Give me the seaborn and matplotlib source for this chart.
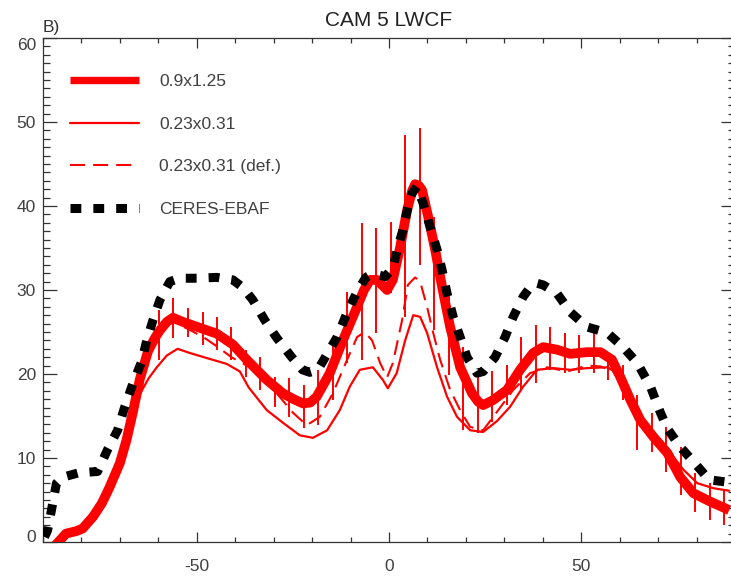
import matplotlib
matplotlib.use("Agg")
import matplotlib.pyplot as plt
import seaborn as sns
from matplotlib.lines import Line2D
from matplotlib.ticker import MultipleLocator

# CERES-EBAF observations
ceres_lat = [-89.6, -88.8, -87.8, -86.5, -85.0, -81.0, -78.5, -75.8, -73.2, -70.6, -68.8,
             -66.6, -64.4, -63.0, -61.4, -59.6, -57.0, -54.4, -50.0, -44.8, -40.6, -38.0,
             -35.4, -32.3, -29.2, -25.3, -22.5, -20.6, -18.5, -16.7, -13.5, -10.9, -8.3,
             -6.0, -4.9, -3.0, -1.0, 1.0, 2.3, 3.6, 5.0, 6.0, 7.2, 8.9, 10.7, 12.5, 13.8,
             15.1, 16.7, 18.5, 20.3, 22.9, 24.5, 26.3, 27.6, 30.2, 32.3, 34.9, 37.0, 38.5,
             40.1, 43.7, 47.1, 51.5, 56.8, 60.9, 64.6, 68.0, 70.6, 72.4, 75.8, 79.5, 83.3, 88.5]
ceres_val = [0.6, 1.4, 3.8, 7.0, 7.7, 8.2, 8.3, 8.4, 11.0, 13.3, 16.0,
             18.9, 21.4, 24.0, 26.4, 28.8, 31.0, 31.4, 31.4, 31.5, 31.2, 30.3,
             28.8, 26.4, 24.3, 22.0, 20.5, 20.2, 20.5, 21.9, 24.4, 27.3, 29.8,
             31.5, 31.8, 31.8, 31.6, 32.6, 35.1, 37.1, 40.0, 41.5, 42.3, 40.3, 37.5, 34.8, 32.4,
             29.6, 26.8, 24.4, 22.0, 20.1, 20.3, 21.3, 22.0, 24.4, 26.8, 29.2, 30.5, 30.8,
             30.6, 29.6, 27.4, 25.6, 24.9, 23.2, 21.3, 18.5, 15.4, 13.5, 11.3, 9.4, 7.4, 7.1]

# CAM5 0.9x1.25
lr_lat = [-87.0, -84.0, -81.3, -79.7, -77.0, -74.7, -72.7, -70.0, -68.3, -66.6, -64.8,
          -62.7, -61.0, -59.6, -57.8, -56.2, -53.6, -49.2, -44.8, -40.6, -37.0, -31.8, -27.6,
          -24.8, -22.4, -20.5, -18.8, -15.4, -12.0, -8.3, -6.5, -4.9, -3.1, -0.5, 1.0, 2.9,
          4.7, 6.0, 6.8, 7.8, 8.6, 10.2, 12.0, 13.8, 15.9, 18.5, 21.6, 23.2, 24.5, 27.1,
          30.7, 34.1, 37.5, 40.1, 43.7, 47.1, 51.5, 55.0, 58.0, 60.2, 62.8, 65.4, 68.8,
          72.4, 75.8, 79.2, 83.6, 88.5]
lr_val = [-0.5, 1.0, 1.3, 1.6, 3.0, 4.6, 6.5, 9.4, 12.1, 15.5, 19.4,
          22.7, 24.2, 25.2, 26.2, 26.7, 26.2, 25.5, 24.8, 23.5, 21.7, 19.3, 17.7,
          17.0, 16.5, 16.6, 17.3, 20.1, 24.0, 28.0, 30.0, 31.2, 31.2, 30.0, 31.2, 35.1,
          39.5, 41.8, 42.6, 42.4, 41.9, 38.7, 34.8, 30.4, 25.6, 20.8, 17.7, 16.7, 16.3, 16.9,
          18.1, 20.5, 22.5, 23.2, 22.9, 22.4, 22.6, 22.6, 21.7, 19.6, 16.9, 14.5, 12.5,
          10.6, 7.7, 5.8, 4.8, 3.8]

# CAM5 0.23x0.31
hr_lat = [-87.0, -84.0, -81.3, -79.7, -77.0, -74.7, -72.7, -70.0, -68.3, -66.6, -64.8,
          -62.5, -60.4, -57.8, -55.0, -51.8, -47.4, -42.2, -38.8, -36.5, -31.8, -27.6,
          -23.2, -19.8, -16.1, -12.8, -10.2, -7.6, -4.2, -1.6, -0.3, 2.0, 4.2, 6.3, 8.1,
          9.9, 12.5, 15.1, 17.7, 21.1, 24.5, 28.1, 31.5, 34.9, 38.5, 42.7, 47.1, 51.5,
          56.8, 59.4, 62.0, 65.4, 69.8, 73.2, 76.6, 80.2, 84.4, 88.5]
hr_val = [-0.5, 1.0, 1.3, 1.6, 3.0, 4.6, 6.5, 9.4, 12.1, 15.3, 17.6,
          19.5, 20.8, 22.2, 23.0, 22.5, 21.9, 21.2, 20.3, 18.4, 15.7, 14.2,
          12.7, 12.4, 13.3, 15.7, 18.5, 20.5, 20.8, 19.3, 18.3, 20.1, 24.0, 27.0, 26.8,
          24.9, 20.8, 17.3, 14.9, 13.3, 13.1, 14.4, 16.1, 18.5, 20.5, 20.7, 20.5, 20.7,
          20.8, 20.1, 18.1, 14.9, 12.5, 10.6, 8.6, 7.0, 6.4, 6.1]

# CAM5 0.23x0.31 (default tuning)
hd_lat = [-87.0, -84.0, -81.3, -79.7, -77.0, -74.7, -72.7, -70.0, -68.3, -66.6, -64.8,
          -62.7, -59.6, -56.2, -52.0, -48.0, -44.8, -41.0, -37.0, -33.6, -29.2, -25.0,
          -21.4, -18.0, -14.6, -10.9, -8.3, -6.3, -4.4, -2.3, -0.5, 1.0, 3.4, 4.9, 6.8,
          8.1, 9.9, 11.5, 13.3, 15.9, 18.5, 21.1, 24.5, 28.9, 32.3, 36.7, 41.1, 46.4,
          51.5, 55.0, 58.3, 61.0, 63.0, 65.4, 68.8, 72.4, 75.8, 79.2, 83.6, 88.5]
hd_val = [-0.5, 1.0, 1.3, 1.6, 3.0, 4.6, 6.5, 9.4, 12.1, 15.5, 19.4,
          22.7, 25.2, 26.2, 25.3, 24.3, 23.3, 22.0, 21.0, 20.1, 17.7, 15.4,
          13.9, 14.9, 17.7, 21.7, 24.4, 25.0, 24.0, 21.3, 19.6, 21.3, 26.4, 30.6, 31.5,
          31.0, 28.0, 24.9, 21.7, 18.1, 15.7, 13.7, 13.3, 16.0, 18.1, 20.1, 20.8, 20.3,
          21.0, 20.9, 20.3, 18.5, 16.8, 14.6, 12.5, 10.6, 7.8, 5.9, 4.9, 3.9]

# spread bars on the 0.9x1.25 curve
bar_lat = [-63.6, -59.8, -56.1, -52.3, -48.5, -44.8, -41.0, -37.2, -33.5, -29.7, -25.9,
           -22.2, -18.4, -14.6, -10.8, -7.1, -3.3, 0.5, 4.2, 8.0, 11.8, 15.5, 19.3,
           23.1, 26.9, 30.6, 34.4, 38.2, 41.9, 45.7, 49.5, 53.2, 57.0, 60.8, 64.5,
           68.3, 72.1, 75.9, 79.6, 83.4, 87.2]
bar_hi = [23.1, 27.6, 29.0, 27.9, 27.4, 26.8, 25.6, 22.9, 22.0, 19.6, 19.5,
          18.7, 20.5, 24.0, 29.8, 38.0, 37.4, 38.1, 48.5, 49.3, 38.7, 29.6, 23.2,
          19.6, 20.3, 21.1, 24.4, 25.8, 25.6, 24.9, 24.6, 24.9, 22.0, 21.1, 17.5,
          15.4, 13.7, 11.3, 8.2, 7.0, 6.2]
bar_lo = [20.0, 21.7, 24.3, 24.4, 23.5, 22.9, 21.7, 19.6, 18.1, 16.1, 14.9,
          13.6, 13.9, 16.9, 21.3, 21.7, 24.9, 29.6, 26.8, 33.0, 25.2, 19.9, 13.3,
          13.0, 14.3, 16.3, 18.1, 18.9, 20.5, 20.1, 20.1, 20.1, 19.3, 16.9, 11.0,
          10.7, 8.3, 5.6, 3.6, 2.6, 2.0]

labels = ["0.9x1.25", "0.23x0.31", "0.23x0.31 (def.)", "CERES-EBAF"]

sns.set_style("white")
plt.rcParams["font.family"] = ["Liberation Sans", "DejaVu Sans"]
plt.rcParams["axes.unicode_minus"] = False

fig = plt.figure(figsize=(7.31, 5.77), dpi=100)
ax = fig.add_axes([43 / 731, 35 / 577, 692 / 731, 504 / 577])

thick = dict(color="red", linewidth=7, solid_capstyle="butt", solid_joinstyle="round")
thin = dict(color="red", linewidth=1.6)
dash_r = dict(color="red", linewidth=1.5, linestyle=(0, (7.2, 3.9)))
dash_k = dict(color="black", linewidth=6.5, linestyle=(0, (1.2, 1.33)))

ax.vlines(bar_lat, bar_lo, bar_hi, color="red", linewidth=1.4, zorder=2)
sns.lineplot(x=hr_lat, y=hr_val, ax=ax, zorder=3, **thin)
sns.lineplot(x=hd_lat, y=hd_val, ax=ax, zorder=3, **dash_r)
sns.lineplot(x=lr_lat, y=lr_val, ax=ax, zorder=4, **thick)
sns.lineplot(x=ceres_lat, y=ceres_val, ax=ax, zorder=5, **dash_k)

ax.set_xlim(-90, 90)
ax.set_ylim(0, 60)
ax.set_xticks([-50, 0, 50])
ax.set_yticks([0, 10, 20, 30, 40, 50, 60])
ax.xaxis.set_minor_locator(MultipleLocator(10))
ax.yaxis.set_minor_locator(MultipleLocator(1))
ax.tick_params(which="both", direction="in", top=True, right=True, bottom=True, left=True,
               color="#333333", width=0.9, labelcolor="#404040", labelsize=12.5)
ax.tick_params(axis="x", which="major", length=7, pad=12)
ax.tick_params(axis="x", which="minor", length=3.5)
ax.tick_params(axis="y", which="major", length=10, pad=5)
ax.tick_params(axis="y", which="minor", length=5)
for s in ax.spines.values():
    s.set_color("#333333")
    s.set_linewidth(0.9)

# IDL keeps the end labels inside the axis range
yticks = ax.yaxis.get_major_ticks()
yticks[0].label1.set_va("baseline")
yticks[-1].label1.set_va("top")

ax.set_title("CAM 5 LWCF", fontsize=15, color="#222222", pad=9)
fig.text(43 / 731, 1 - 32 / 577, "B)", fontsize=12.5, color="#333333", ha="left", va="baseline")

handles = [Line2D([], [], **dict(thick, linewidth=5.3)), Line2D([], [], **thin),
           Line2D([], [], **dash_r), Line2D([], [], **dash_k)]
ax.legend(handles, labels, loc="upper left", bbox_to_anchor=(0.039, 0.928), frameon=False,
          borderpad=0, borderaxespad=0, handlelength=4.0, handletextpad=1.15,
          labelspacing=1.57, fontsize=12.5, labelcolor="#404040")

fig.savefig("out.png", dpi=100)
